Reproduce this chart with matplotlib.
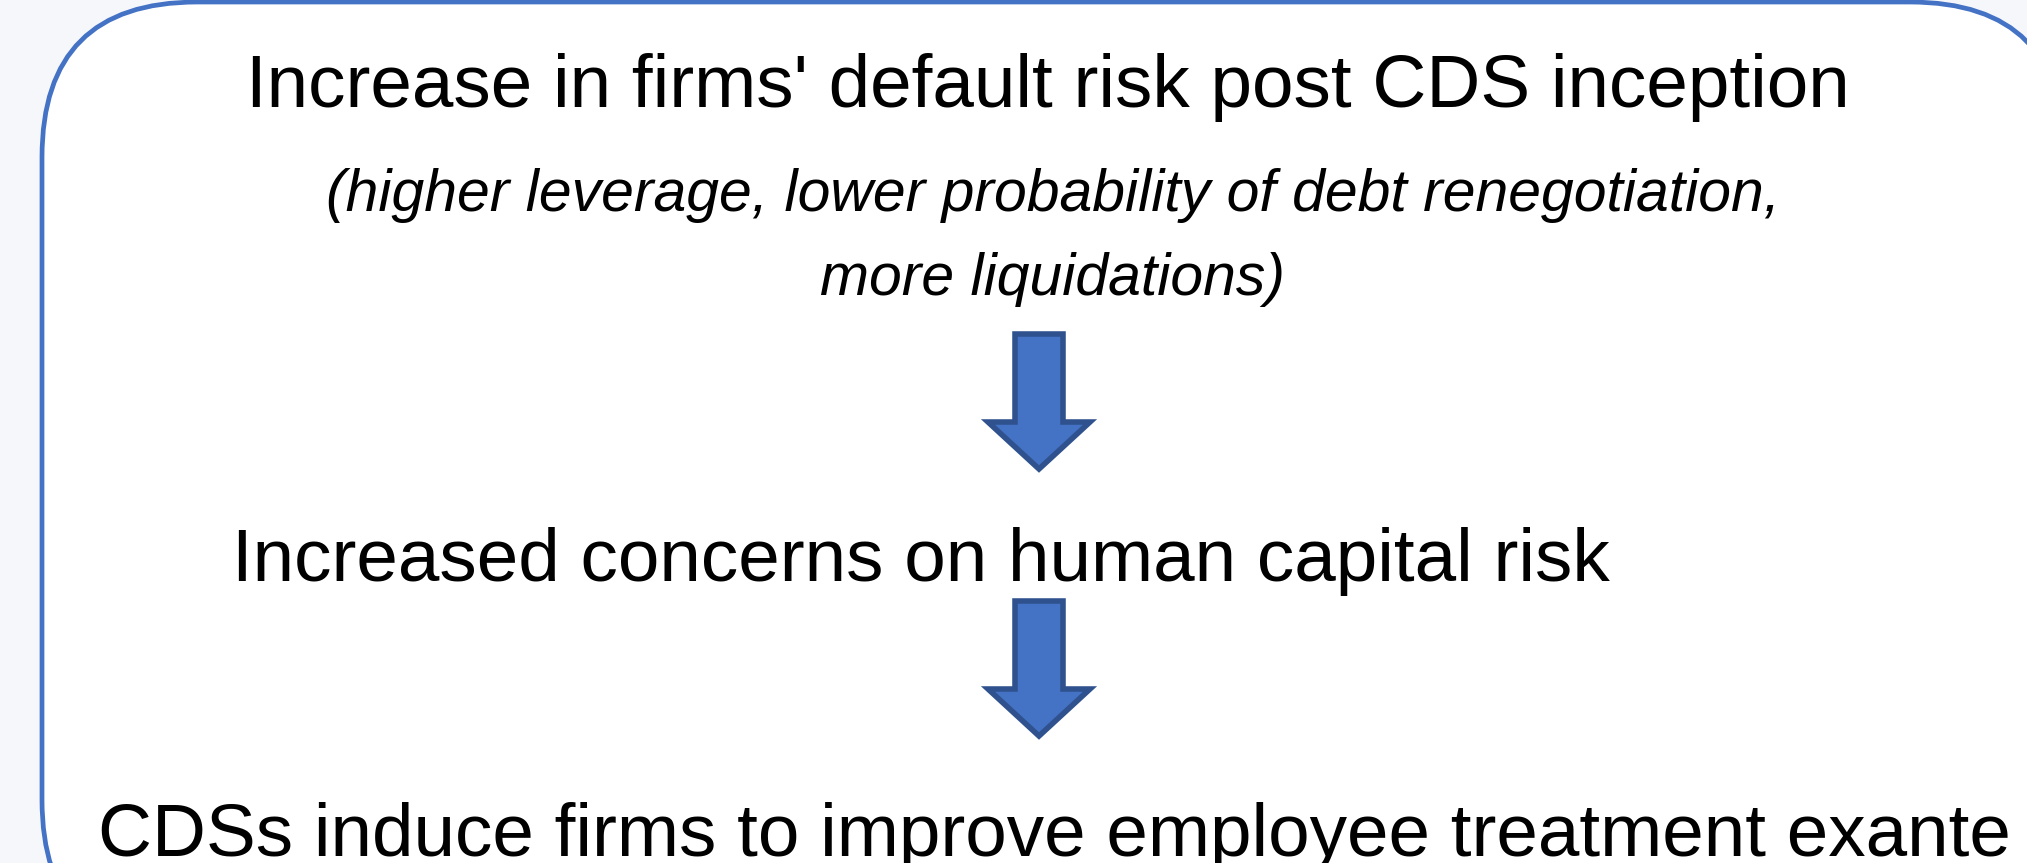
import matplotlib
matplotlib.use("Agg")
import matplotlib.pyplot as plt
from matplotlib.patches import FancyBboxPatch, Polygon

# ---- content ----
main_lines = [
    "Increase in firms' default risk post CDS inception",
    "Increased concerns on human capital risk",
    "CDSs induce firms to improve employee treatment exante",
]
sub_lines = [
    "(higher leverage, lower probability of debt renegotiation,",
    "more liquidations)",
]

# ---- layout (pixel coordinates, y downwards) ----
W, H = 2027, 863
main_x = [1048, 921, 1054]
main_y = [107, 581, 856]
sub_x = [1053, 1053]
sub_y = [211, 295]
arrow_top = [334, 601]
arrow_base = [422, 689]
arrow_tip = [469, 736]
arrow_cx = 1039

BG = "#F5F7FB"
BORDER = "#4472C4"
ARROW_FILL = "#4472C4"
ARROW_EDGE = "#2F528F"

fig = plt.figure(figsize=(W / 100, H / 100), dpi=100, facecolor=BG)
ax = fig.add_axes([0, 0, 1, 1])
ax.set_xlim(0, W)
ax.set_ylim(H, 0)
ax.axis("off")
ax.set_facecolor(BG)

box = FancyBboxPatch((42, 2), 2065 - 42, 955 - 2,
                     boxstyle="round,pad=0,rounding_size=155",
                     facecolor="white", edgecolor=BORDER, linewidth=3.4,
                     clip_on=False)
ax.add_patch(box)

for txt, x, y in zip(main_lines, main_x, main_y):
    ax.text(x, y, txt, ha="center", va="baseline", fontsize=53.8,
            family="Liberation Sans", color="black")

for txt, x, y in zip(sub_lines, sub_x, sub_y):
    ax.text(x, y, txt, ha="center", va="baseline", fontsize=42.4,
            family="Liberation Sans", style="italic", color="black")

shaft_half = 24
head_half = 51
for t, b, tip in zip(arrow_top, arrow_base, arrow_tip):
    pts = [
        (arrow_cx - shaft_half, t), (arrow_cx + shaft_half, t),
        (arrow_cx + shaft_half, b), (arrow_cx + head_half, b),
        (arrow_cx, tip),
        (arrow_cx - head_half, b), (arrow_cx - shaft_half, b),
    ]
    ax.add_patch(Polygon(pts, closed=True, facecolor=ARROW_FILL,
                         edgecolor=ARROW_EDGE, linewidth=4.0,
                         joinstyle="miter"))

fig.savefig("out.png", dpi=100, facecolor=BG)
